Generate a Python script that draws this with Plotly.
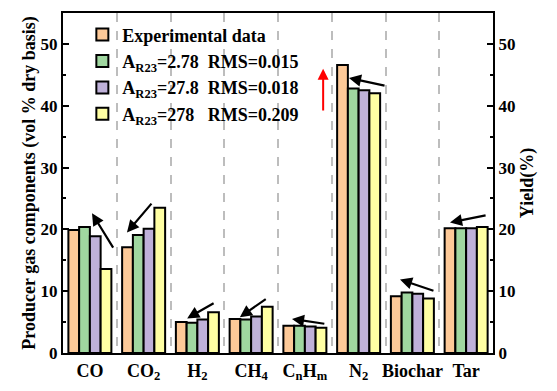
import plotly.graph_objects as go

categories = ["CO", "CO<sub>2</sub>", "H<sub>2</sub>", "CH<sub>4</sub>",
              "C<sub>n</sub>H<sub>m</sub>", "N<sub>2</sub>", "Biochar", "Tar"]
series_names = ["Experimental data",
                "A<sub>R23</sub>=2.78  RMS=0.015",
                "A<sub>R23</sub>=27.8  RMS=0.018",
                "A<sub>R23</sub>=278   RMS=0.209"]
experimental = [19.9, 17.1, 5.0, 5.5, 4.4, 46.6, 9.2, 20.2]
a_2_78 = [20.4, 19.1, 4.9, 5.4, 4.4, 42.8, 9.8, 20.2]
a_27_8 = [18.9, 20.1, 5.4, 5.9, 4.3, 42.5, 9.6, 20.2]
a_278 = [13.6, 23.5, 6.6, 7.5, 4.1, 42.0, 8.8, 20.4]
colors = ["#FDC998", "#A0D7A0", "#BFB1D9", "#FFFFA3"]

# arrows: (tail_x, tail_y, head_x, head_y) in data units (x = category index)
arrows_black = [
    (0.45, 16.8, 0.04, 22.6),
    (1.17, 24.4, 0.69, 19.5),
    (2.33, 8.2, 1.81, 5.6),
    (3.30, 8.9, 2.79, 5.8),
    (4.39, 4.7, 3.76, 5.5),
    (5.51, 43.2, 4.82, 44.5),
    (6.42, 10.0, 5.77, 11.9),
    (7.39, 22.3, 6.70, 21.1),
]
arrow_red = (4.34, 39.0, 4.34, 46.0)

font_family = "Liberation Serif"
fig = go.Figure()
for name, vals, c in zip(series_names, [experimental, a_2_78, a_27_8, a_278], colors):
    fig.add_trace(go.Bar(x=categories, y=vals, name=name,
                         marker=dict(color=c, line=dict(color="black", width=2))))

annotations = []
for tx, ty, hx, hy in arrows_black:
    annotations.append(dict(x=hx, y=hy, ax=tx, ay=ty, xref="x", yref="y",
                            axref="x", ayref="y", showarrow=True, arrowhead=2,
                            arrowsize=1.1, arrowwidth=2.2, arrowcolor="black", text=""))
tx, ty, hx, hy = arrow_red
annotations.append(dict(x=hx, y=hy, ax=tx, ay=ty, xref="x", yref="y",
                        axref="x", ayref="y", showarrow=True, arrowhead=2,
                        arrowsize=1.1, arrowwidth=2, arrowcolor="red", text=""))

axis_font = dict(family=font_family, size=17, color="black", weight="bold")
xtick_font = dict(family=font_family, size=18, color="black", weight="bold")
title_font = dict(family=font_family, size=18, color="black", weight="bold")
# the page body has an 8px margin, so the figure is offset by 8px right and down
fig.update_layout(
    width=557, height=391,
    margin=dict(l=55, r=72, t=5, b=46, autoexpand=False),
    plot_bgcolor="white", paper_bgcolor="white",
    font=dict(family=font_family, size=17, color="black", weight="bold"),
    barmode="group", bargap=0.2, bargroupgap=0,
    showlegend=True,
    legend=dict(x=0.045, y=0.99, xanchor="left", yanchor="top",
                bgcolor="rgba(0,0,0,0)", font=dict(family=font_family, size=18, weight="bold"),
                tracegroupgap=0, itemwidth=30),
    xaxis=dict(showline=True, linecolor="black", linewidth=2, mirror=True,
               ticks="", tickfont=xtick_font, tickangle=0, automargin=False,
               showgrid=True, tickson="boundaries",
               gridcolor="#BDBDBD", griddash="dash", gridwidth=2,
               range=[-0.5, 7.5]),
    yaxis=dict(range=[0, 55], dtick=10, showline=True, linecolor="black", linewidth=2,
               ticks="inside", ticklen=6, tickwidth=2, tickcolor="black", automargin=False,
               minor=dict(ticks="inside", ticklen=3, tickwidth=2, dtick=5, tickcolor="black"),
               tickfont=axis_font, showgrid=False, zeroline=False,
               title=dict(text="Producer gas components (vol % dry basis)", font=title_font, standoff=0)),
    yaxis2=dict(range=[0, 55], dtick=10, overlaying="y", side="right", anchor="x",
                showline=True, linecolor="black", linewidth=2, automargin=False,
                ticks="inside", ticklen=6, tickwidth=2, tickcolor="black",
                minor=dict(ticks="inside", ticklen=3, tickwidth=2, dtick=5, tickcolor="black"),
                tickfont=axis_font, showgrid=False, zeroline=False,
                title=dict(text="Yield(%)", font=title_font, standoff=6)),
    annotations=annotations,
)
fig.add_trace(go.Scatter(x=[categories[0]], y=[0], yaxis="y2", mode="markers",
                         marker=dict(opacity=0), showlegend=False, hoverinfo="skip"))
fig.write_html("out.html")
